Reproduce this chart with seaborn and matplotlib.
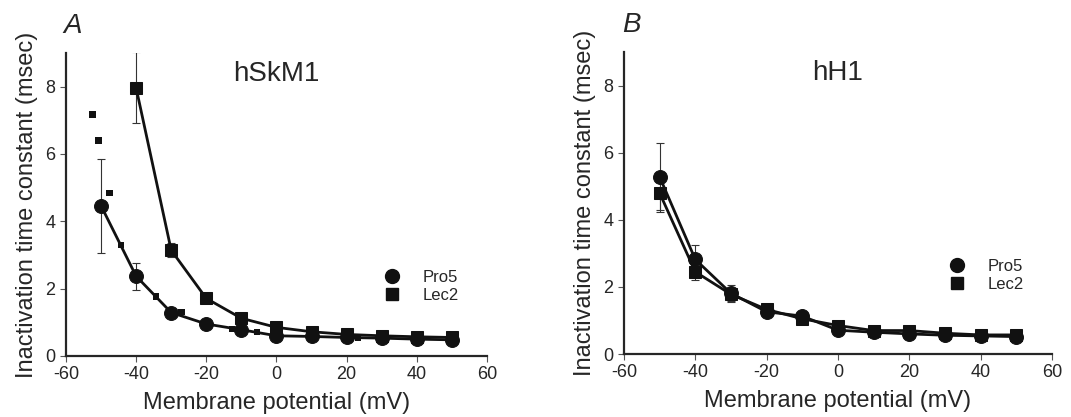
import numpy as np
import pandas as pd
import matplotlib
matplotlib.use('Agg')
import matplotlib.pyplot as plt
from matplotlib.lines import Line2D
import seaborn as sns

sns.set_style('ticks')
plt.rcParams['font.family'] = ['Liberation Sans', 'DejaVu Sans']
plt.rcParams['axes.unicode_minus'] = False

# ── Data ──────────────────────────────────────────────────────────────────
volts = [-50, -40, -30, -20, -10, 0, 10, 20, 30, 40, 50]

# hSkM1
skm_pro5     = [4.46, 2.37, 1.29, 0.95, 0.78, 0.60, 0.58, 0.55, 0.53, 0.50, 0.48]
skm_pro5_err = [1.40, 0.40, 0.10, 0.00, 0.00, 0.00, 0.00, 0.00, 0.00, 0.00, 0.00]
skm_lec2_v   = [-40, -30, -20, -10, 0, 10, 20, 30, 40, 50]
skm_lec2     = [7.96, 3.14, 1.71, 1.12, 0.85, 0.72, 0.64, 0.60, 0.57, 0.55]
skm_lec2_err = [1.05, 0.20, 0.00, 0.00, 0.00, 0.00, 0.00, 0.00, 0.00, 0.00]
# small scattered points (hSkM1)
skm_small_v  = [-52.4, -50.8, -47.6, -44.3, -34.3, -27.0, -12.6, -5.5, 23.3]
skm_small    = [7.17, 6.39, 4.84, 3.29, 1.76, 1.30, 0.80, 0.71, 0.55]

# hH1
hh_pro5      = [5.28, 2.82, 1.81, 1.26, 1.13, 0.71, 0.65, 0.60, 0.56, 0.54, 0.52]
hh_pro5_err  = [1.00, 0.42, 0.25, 0.00, 0.00, 0.00, 0.00, 0.00, 0.00, 0.00, 0.00]
hh_lec2      = [4.80, 2.45, 1.78, 1.33, 1.05, 0.85, 0.70, 0.70, 0.62, 0.57, 0.57]
hh_lec2_err  = [0.56, 0.25, 0.20, 0.00, 0.00, 0.00, 0.00, 0.00, 0.00, 0.00, 0.00]

fig = plt.figure(figsize=(10.71, 4.17), dpi=100)
axA = fig.add_axes([0.0616, 0.1463, 0.393, 0.727])
axB = fig.add_axes([0.5826, 0.151, 0.3996, 0.724])


def draw_series(ax, x, y, err, marker, ms):
    df = pd.DataFrame({'v': x, 'tau': y})
    e = np.array(err)
    mask = e > 0
    ax.errorbar(np.array(x)[mask], np.array(y)[mask], yerr=e[mask], fmt='none',
                ecolor='#333333', elinewidth=0.8, capsize=3, capthick=0.8, zorder=1)
    sns.lineplot(data=df, x='v', y='tau', ax=ax, color='#111111', linewidth=2.0,
                 marker=marker, markersize=ms, markeredgecolor='#111111',
                 markerfacecolor='#111111', zorder=3)


def style_axes(ax, title, letter, leg_x, leg_y):
    ax.set_xlim(-60, 60)
    ax.set_ylim(0, 9)
    ax.set_xticks(range(-60, 61, 20))
    ax.set_yticks(range(0, 9, 2))
    sns.despine(ax=ax)
    ax.spines['left'].set_linewidth(1.6)
    ax.spines['bottom'].set_linewidth(1.6)
    ax.tick_params(axis='both', labelsize=13, length=4, width=0.8, color='#555555')
    ax.set_xlabel('Membrane potential (mV)', fontsize=17, labelpad=6)
    ax.set_ylabel('Inactivation time constant (msec)', fontsize=17, labelpad=5)
    ax.text(0.5, 0.93, title, transform=ax.transAxes, ha='center', va='center',
            fontsize=20)
    ax.text(-0.005, 1.09, letter, transform=ax.transAxes, ha='left', va='center',
            fontsize=20, style='italic')
    handles = [Line2D([], [], marker='o', color='#111111', linestyle='none', markersize=10),
               Line2D([], [], marker='s', color='#111111', linestyle='none', markersize=9)]
    ax.legend(handles, ['Pro5', 'Lec2'], loc='center left', bbox_to_anchor=(leg_x, leg_y),
              frameon=False, fontsize=12, handletextpad=0.8, labelspacing=0.15)


# ── Panel A: hSkM1 ────────────────────────────────────────────────────────
draw_series(axA, volts, skm_pro5, skm_pro5_err, 'o', 10)
draw_series(axA, skm_lec2_v, skm_lec2, skm_lec2_err, 's', 9)
sns.scatterplot(x=skm_small_v, y=skm_small, ax=axA, marker='s', s=22,
                color='#111111', edgecolor='none', zorder=4)
style_axes(axA, 'hSkM1', 'A', 0.70, 0.23)

# ── Panel B: hH1 ──────────────────────────────────────────────────────────
draw_series(axB, volts, hh_pro5, hh_pro5_err, 'o', 10)
draw_series(axB, volts, hh_lec2, hh_lec2_err, 's', 9)
style_axes(axB, 'hH1', 'B', 0.705, 0.26)

fig.savefig('out.png', dpi=100)
